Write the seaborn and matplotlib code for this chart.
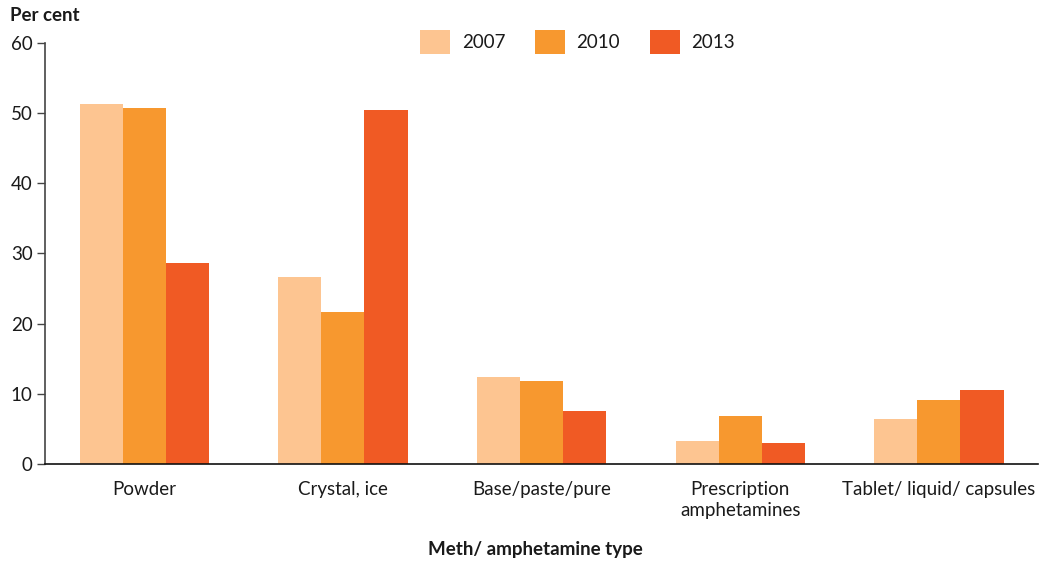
import pandas as pd
import seaborn as sns
import matplotlib.pyplot as plt

# values (per cent)
types = ["Powder", "Crystal, ice", "Base/paste/pure",
         "Prescription\namphetamines", "Tablet/ liquid/ capsules"]
years = ["2007", "2010", "2013"]
v2007 = [51.3, 26.6, 12.4, 3.3, 6.4]
v2010 = [50.7, 21.7, 11.8, 6.8, 9.1]
v2013 = [28.6, 50.4, 7.6, 3.0, 10.5]
colors = ["#FDC591", "#F7982F", "#F05A24"]

# long format for seaborn
df = pd.DataFrame({
    "type": types * 3,
    "year": [y for y in years for _ in types],
    "value": v2007 + v2010 + v2013,
})

sns.set_style("white")
plt.rcParams["font.family"] = ["Lato", "DejaVu Sans"]
text_col = "#1a1a1a"

fig = plt.figure(figsize=(10.39, 5.62), dpi=100)
ax = fig.add_axes([0.0433, 0.1744, 0.956, 0.7491])

sns.barplot(data=df, x="type", y="value", hue="year", palette=colors,
            width=0.65, gap=0, saturation=1, linewidth=0, ax=ax, legend=True)

ax.set_xlim(-0.5, 4.5)
ax.set_ylim(0, 60)
ax.set_yticks(range(0, 61, 10))
ax.tick_params(axis="y", direction="out", length=6, width=1, colors="#444444",
               labelsize=13.5, labelcolor=text_col, pad=3, left=True)
ax.tick_params(axis="x", length=0, labelsize=13.5, labelcolor=text_col, pad=12)
for lbl in ax.get_xticklabels():
    lbl.set_linespacing(1.3)

sns.despine(ax=ax, top=True, right=True)
ax.spines["left"].set_color("#444444")
ax.spines["bottom"].set_color("#111111")
ax.spines["left"].set_linewidth(1.2)
ax.spines["bottom"].set_linewidth(1.2)

ax.set_xlabel("")
ax.set_ylabel("")

# legend along the top
handles, labels = ax.get_legend_handles_labels()
ax.legend_.remove()
fig.legend(handles, labels, loc="center", bbox_to_anchor=(0.556, 0.925),
           ncol=3, frameon=False, fontsize=13.5, handlelength=1.6,
           handleheight=1.6, columnspacing=1.6, handletextpad=0.6,
           labelcolor=text_col)

fig.text(0.01, 0.972, "Per cent", fontsize=13.5, fontweight="bold",
         color=text_col, va="center", ha="left")
fig.text(0.515, 0.023, "Meth/ amphetamine type", fontsize=13.5,
         fontweight="bold", color=text_col, va="center", ha="center")

fig.savefig("out.png", dpi=100)
